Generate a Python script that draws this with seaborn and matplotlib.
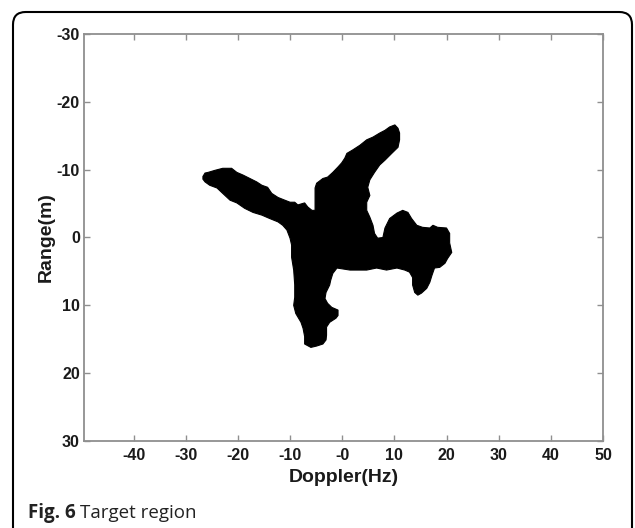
import matplotlib
matplotlib.use("Agg")
import matplotlib.pyplot as plt
from matplotlib.patches import FancyBboxPatch
import pandas as pd
import seaborn as sns

# Outline of the detected target region (Doppler in Hz, range in m), traced clockwise
doppler_hz = [
    -26.7, -26.3, -25.7, -24.4, -22.9, -21.2, -20.2, -19.0, -17.7, -16.4,
    -15.4, -14.3, -13.5, -12.3, -11.0, -10.0, -9.1, -8.5, -7.2, -6.6,
    -5.8, -5.2, -5.2, -4.9, -3.7, -2.8, -1.8, -0.8, -0.1, 0.5,
    0.9, 2.0, 3.4, 4.7, 5.9, 7.2, 8.2, 9.1, 10.1, 10.7,
    11.0, 11.0, 10.7, 9.5, 8.2, 7.2, 6.2, 5.3, 4.9, 5.3,
    4.7, 4.7, 5.3, 5.9, 6.2, 6.8, 7.8, 8.2, 9.1, 10.5,
    11.6, 12.6, 13.3, 14.3, 15.4, 16.8, 17.4, 18.3, 20.0, 20.6,
    20.6, 21.0, 20.2, 19.7, 18.7, 17.7, 17.2, 16.8, 16.2, 15.2,
    14.5, 13.9, 13.5, 13.5, 12.9, 12.0, 10.5, 8.5, 6.6, 4.7,
    2.8, 1.5, -1.0, -1.8, -2.2, -2.4, -3.1, -3.3, -2.8, -2.0,
    -0.8, -0.8, -1.2, -2.4, -3.0, -3.0, -3.1, -3.7, -4.9, -6.0,
    -7.2, -7.2, -7.5, -7.9, -8.9, -9.3, -9.1, -9.1, -9.3, -9.7,
    -9.7, -10.0, -10.6, -11.4, -12.3, -13.9, -15.4, -17.1, -18.7, -20.2,
    -21.5, -22.9, -24.0, -25.4, -26.3, -26.7,
]
range_m = [
    -9.0, -9.5, -9.6, -9.9, -10.2, -10.2, -9.6, -9.2, -8.7, -8.2,
    -7.7, -7.4, -6.5, -5.9, -5.5, -5.2, -5.2, -4.8, -5.1, -4.5,
    -4.0, -4.0, -7.3, -8.0, -8.7, -8.9, -9.6, -10.4, -11.0, -11.7,
    -12.4, -12.9, -13.6, -14.4, -14.8, -15.4, -15.8, -16.3, -16.6, -16.1,
    -15.4, -14.4, -13.3, -12.4, -11.4, -10.7, -9.6, -8.5, -7.4, -6.2,
    -5.2, -4.0, -3.0, -1.8, -0.6, 0.1, 0.0, -1.4, -2.8, -3.6,
    -4.0, -3.7, -2.8, -1.8, -1.5, -1.4, -1.8, -1.5, -1.4, -0.6,
    0.8, 2.2, 3.1, 3.8, 4.4, 4.5, 5.6, 6.6, 7.5, 8.2,
    8.5, 8.1, 7.0, 5.9, 5.1, 4.8, 4.5, 4.8, 4.5, 4.8,
    4.8, 4.8, 4.5, 5.3, 6.3, 7.0, 8.1, 9.0, 9.7, 10.3,
    10.7, 11.5, 11.9, 12.5, 13.2, 14.4, 15.1, 15.7, 16.0, 16.2,
    15.7, 14.6, 13.4, 12.5, 11.2, 10.0, 8.8, 7.0, 4.8, 2.9,
    1.1, 0.1, -1.1, -1.8, -2.3, -2.8, -3.3, -3.7, -4.3, -5.1,
    -5.5, -6.5, -7.3, -7.7, -8.2, -8.6,
]

x_ticks = [-40, -30, -20, -10, 0, 10, 20, 30, 40, 50]
x_tick_labels = ["-40", "-30", "-20", "-10", "-0", "10", "20", "30", "40", "50"]
y_ticks = [-30, -20, -10, 0, 10, 20, 30]
y_tick_labels = ["-30", "-20", "-10", "0", "10", "20", "30"]

sns.set_style("ticks")
plt.rcParams["font.family"] = ["Liberation Sans", "DejaVu Sans"]

W, H = 635, 528
fig = plt.figure(figsize=(W / 100, H / 100), dpi=100)
fig.patch.set_facecolor("white")

# Axes box in pixel terms: left 84, right 603, top 34, bottom 441
ax = fig.add_axes([84 / W, 1 - 441 / H, (603 - 84) / W, (441 - 34) / H])

region = pd.DataFrame({"doppler": doppler_hz, "range": range_m})
ax.fill(region["doppler"], region["range"], facecolor="black",
        edgecolor="black", linewidth=0.8)

ax.set_xlim(-49.5, 50)
ax.set_ylim(30, -30)
ax.set_xticks(x_ticks)
ax.set_xticklabels(x_tick_labels)
ax.set_yticks(y_ticks)
ax.set_yticklabels(y_tick_labels)

spine_gray = "#8f8f8f"
for side in ["left", "right", "top", "bottom"]:
    ax.spines[side].set_visible(True)
    ax.spines[side].set_color(spine_gray)
    ax.spines[side].set_linewidth(1.3)

ax.tick_params(axis="both", which="major", direction="in", length=4,
               width=1.0, color=spine_gray, top=True, right=True,
               labelsize=11.5, labelcolor="#1a1a1a")
ax.tick_params(axis="x", pad=5)
ax.tick_params(axis="y", pad=3)
for lbl in ax.get_xticklabels() + ax.get_yticklabels():
    lbl.set_fontweight("bold")

ax.set_xlabel("Doppler(Hz)", fontsize=14, fontweight="bold",
              color="#1a1a1a", labelpad=4)
ax.set_ylabel("Range(m)", fontsize=14, fontweight="bold",
              color="#1a1a1a", labelpad=1)
ax.grid(False)

# Rounded frame around the figure panel (open past the bottom edge)
frame = FancyBboxPatch((13 / W, -0.05), (632 - 13) / W, 1 - 12 / H + 0.05,
                       boxstyle="round,pad=0,rounding_size=0.02",
                       mutation_aspect=W / H,
                       transform=fig.transFigure, fill=False,
                       edgecolor="black", linewidth=1.5, clip_on=False)
fig.patches.append(frame)

# Caption: bold figure number followed by the plain title
cap_font = ["Open Sans", "DejaVu Sans"]
cap_y = 1 - 513 / H
t1 = fig.text(28 / W, cap_y, "Fig. 6", fontsize=13.5, fontweight="bold",
              family=cap_font, va="center", ha="left", color="#222222")
fig.canvas.draw()
bb = t1.get_window_extent(renderer=fig.canvas.get_renderer())
fig.text((bb.x1 + 4) / W, cap_y, "Target region", fontsize=13.5,
         family=cap_font, va="center", ha="left", color="#222222")

fig.savefig("out.png", dpi=100)
